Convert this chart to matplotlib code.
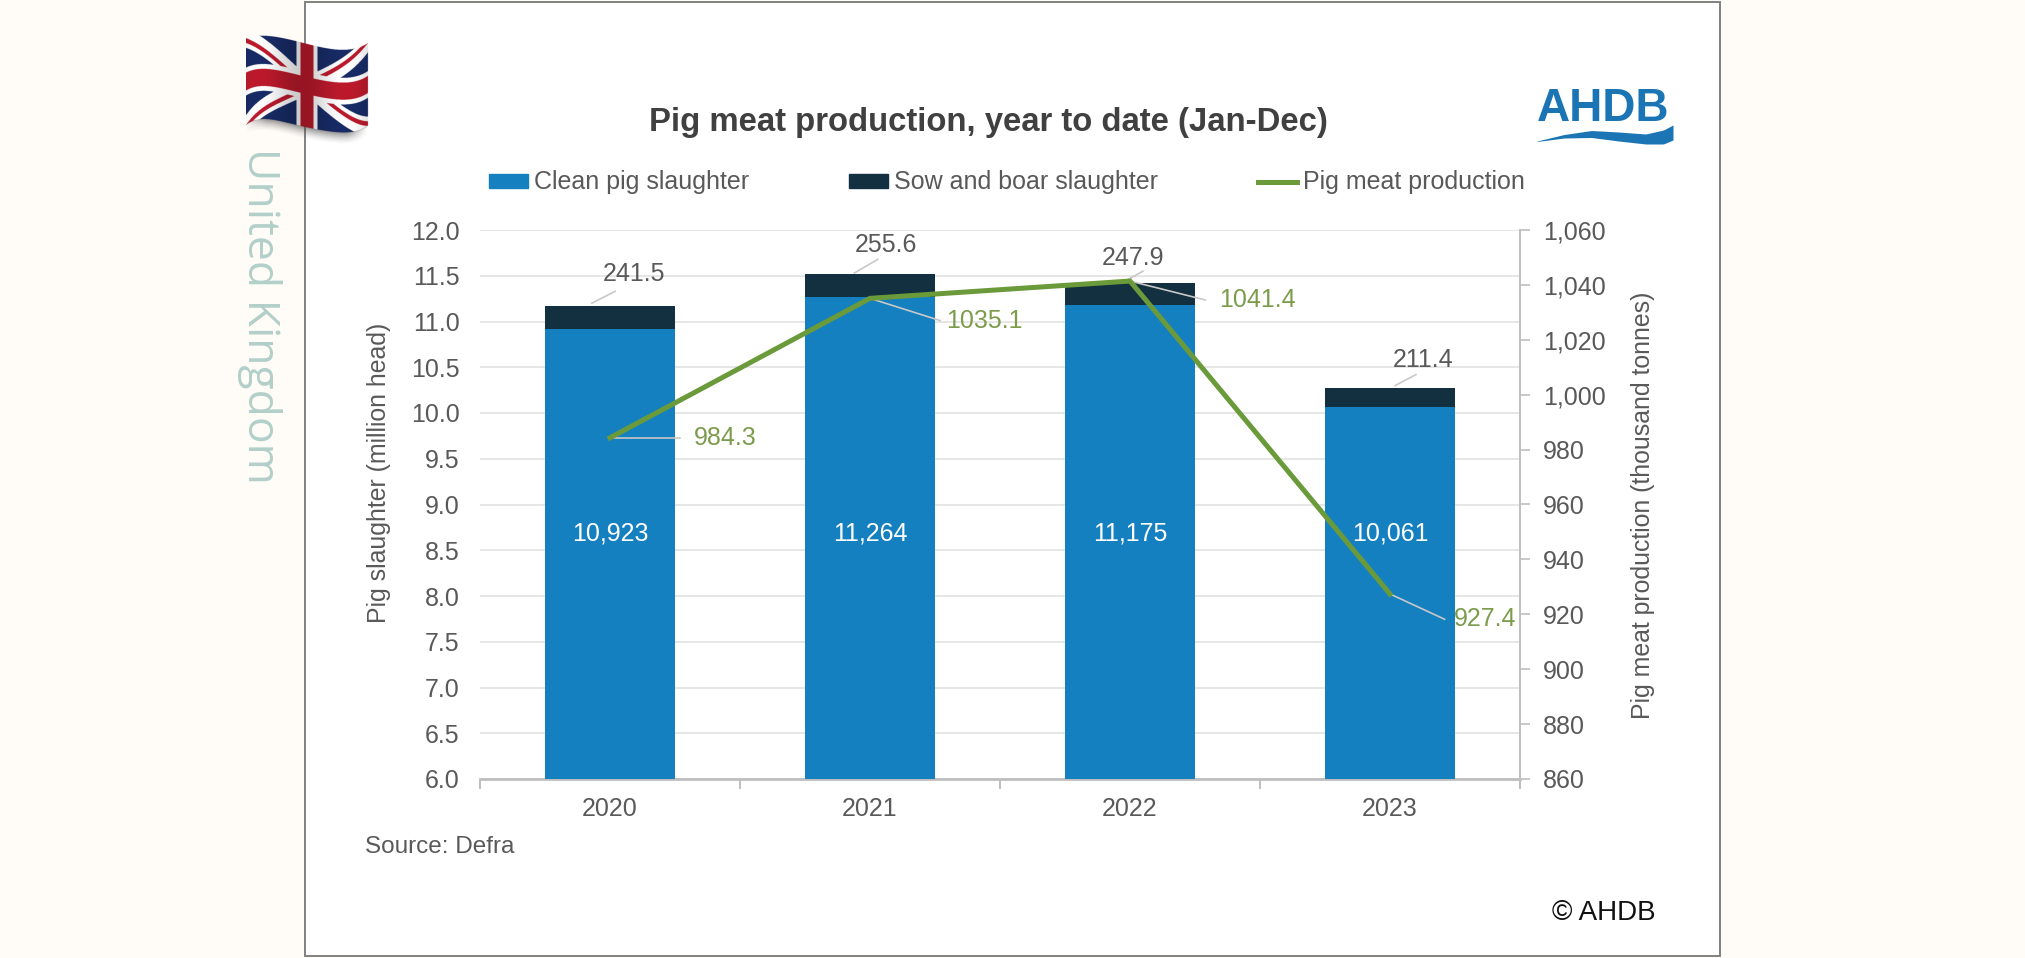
import numpy as np
import matplotlib
matplotlib.use("Agg")
import matplotlib.pyplot as plt
from matplotlib.patches import Rectangle, Patch
from matplotlib.lines import Line2D

plt.rcParams['font.family'] = ['Liberation Sans', 'DejaVu Sans']

years = ['2020', '2021', '2022', '2023']
clean_pigs = [10923, 11264, 11175, 10061]          # thousand head
sows_boars = [241.5, 255.6, 247.9, 211.4]          # thousand head
production = [984.3, 1035.1, 1041.4, 927.4]        # thousand tonnes
clean_labels = ['10,923', '11,264', '11,175', '10,061']
left_ticks = [6.0, 6.5, 7.0, 7.5, 8.0, 8.5, 9.0, 9.5, 10.0, 10.5, 11.0, 11.5, 12.0]
right_ticks = [860, 880, 900, 920, 940, 960, 980, 1000, 1020, 1040, 1060]

W, H = 2025, 958
GREY = '#595959'
BLUE = '#1580C0'
DARK = '#12303F'
GREEN = '#6A9A3A'
GREEN_TXT = '#7C9C4C'

fig = plt.figure(figsize=(W / 100, H / 100), dpi=100, facecolor='#FFFBF7')


def px_axes(l, t, r, b):
    return fig.add_axes([l / W, 1 - b / H, (r - l) / W, (b - t) / H])


# page overlay in pixel coordinates
page = fig.add_axes([0, 0, 1, 1], zorder=0)
page.set_xlim(0, W)
page.set_ylim(H, 0)
page.axis('off')
page.add_patch(Rectangle((305, 1.5), 1415, 954.5, fc='white', ec='#808080', lw=1.4))

# chart
ax = px_axes(480, 230, 1520, 779)
ax.set_zorder(2)
ax.patch.set_alpha(0)
x = np.arange(len(years))
clean_m = np.array(clean_pigs) / 1000
sows_m = np.array(sows_boars) / 1000
ax.bar(x, clean_m, width=0.5, color=BLUE, zorder=3)
ax.bar(x, sows_m, width=0.5, bottom=clean_m, color=DARK, zorder=3)
ax.set_xlim(-0.5, 3.5)
ax.set_ylim(6, 12)
ax.set_yticks(left_ticks)
ax.set_yticklabels([f'{v:.1f}' for v in left_ticks], fontsize=18, color=GREY)
ax.set_xticks(x)
ax.set_xticklabels(years, fontsize=18, color=GREY)
ax.set_xticks(np.arange(-0.5, 4), minor=True)
ax.tick_params(axis='x', which='major', length=0, pad=13)
ax.tick_params(axis='x', which='minor', length=7, color='#BFBFBF', width=1.4)
ax.tick_params(axis='y', length=0, pad=14.5)
ax.grid(axis='y', color='#E6E6E6', lw=1.4, zorder=0)
ax.set_axisbelow(True)
for s in ['top', 'left', 'right']:
    ax.spines[s].set_visible(False)
ax.spines['bottom'].set_color('#BFBFBF')
ax.spines['bottom'].set_linewidth(2)
ax.set_ylabel('Pig slaughter (million head)', fontsize=17.9, color=GREY)
ax.yaxis.set_label_coords((391 - 480) / 1040, 1 - (473 - 230) / 549)

ax2 = ax.twinx()
ax2.set_zorder(3)
ax2.patch.set_alpha(0)
ax2.plot(x, production, color=GREEN, lw=3.6, solid_joinstyle='miter', zorder=5)
ax2.set_ylim(860, 1060)
ax2.set_yticks(right_ticks)
ax2.set_yticklabels([f'{v:,}' for v in right_ticks], fontsize=18, color=GREY)
ax2.tick_params(axis='y', length=7, color='#BFBFBF', width=1.2, pad=9.5)
for s in ['top', 'left', 'bottom']:
    ax2.spines[s].set_visible(False)
ax2.spines['right'].set_color('#BFBFBF')
ax2.spines['right'].set_linewidth(1.4)
ax2.set_ylabel('Pig meat production (thousand tonnes)', fontsize=17.9, color=GREY)
ax2.yaxis.set_label_coords(1 + (1631 - 1520) / 1040, 1 - (505 - 230) / 549)

# data labels
for xi, v, s in zip(x, clean_m, clean_labels):
    ax.text(xi, 8.68, s, ha='center', va='center', color='white', fontsize=18, zorder=6)

top_label_pos = [(0.093, 11.52), (0.06, 11.84), (0.01, 11.69), (0.127, 10.58)]
top_leader_from = [(-0.07, 11.2), (-0.06, 11.53), (-0.02, 11.44), (0.02, 10.3)]
top_leader_to = [(0.02, 11.33), (0.03, 11.68), (0.05, 11.55), (0.1, 10.42)]
for xi, v, lp, a, b in zip(x, sows_boars, top_label_pos, top_leader_from, top_leader_to):
    ax.text(xi + lp[0], lp[1], f'{v:.1f}', ha='center', va='center', color=GREY, fontsize=18, zorder=6)
    ax.plot([xi + a[0], xi + b[0]], [a[1], b[1]], color='#C8C8C8', lw=1.2, zorder=6)

line_label_dx = [0.445, 0.44, 0.49, 0.365]
line_label_y = [984.3, 1027.0, 1034.5, 918.2]
leader_end_dx = [0.27, 0.27, 0.29, 0.21]
leader_end_y = [984.3, 1027.0, 1034.5, 918.2]
for xi, v, dx, ly, ex, ey in zip(x, production, line_label_dx, line_label_y, leader_end_dx, leader_end_y):
    ax2.plot([xi, xi + ex], [v, ey], color='#C8C8C8', lw=1.2, zorder=4)
    ax2.text(xi + dx, ly, f'{v:.1f}', ha='center', va='center', color=GREEN_TXT, fontsize=18, zorder=6)

# title, legend, notes
page.text(988, 122, 'Pig meat production, year to date (Jan-Dec)', ha='center', va='center',
          fontsize=23.7, fontweight='bold', color='#404040')
handles = [Patch(color=BLUE), Patch(color=DARK), Line2D([], [], color=GREEN, lw=3.6)]
labels = ['Clean pig slaughter', 'Sow and boar slaughter', 'Pig meat production']
fig.legend(handles, labels, ncols=3, frameon=False, fontsize=18, labelcolor=GREY,
           loc='center left', bbox_to_anchor=(489 / W, 1 - 182.5 / H), borderaxespad=0,
           handlelength=1.56, handleheight=0.5, handletextpad=0.24, columnspacing=4.0, borderpad=0)
page.text(365, 847, 'Source: Defra', ha='left', va='center', fontsize=17.5, color=GREY)
page.text(1552, 913, '© AHDB', ha='left', va='center', fontsize=20, color='#111111')
page.text(259, 316, 'United Kingdom', rotation=-90, ha='center', va='center',
          fontsize=32, color='#B2CFC9', family=['Open Sans', 'DejaVu Sans'])

# AHDB logo
page.text(1603, 109, 'AHDB', ha='center', va='center', fontsize=33, fontweight='bold', color='#1B75B5')
wx = np.linspace(0, 1, 80)
wave_u = [0, .2, .4, .6, .8, .93, 1]
wave_top = np.interp(wx, wave_u, [141, 134.5, 130.5, 132, 134, 130, 125])
wave_bot = np.interp(wx, wave_u, [141.5, 138, 137.5, 141, 144, 144, 140])
page.fill_between(1537 + 136 * wx, wave_top, wave_bot, color='#1B75B5', lw=0)

# flag drawn as an image
L, T, R, B = 246, 34, 372, 146
n = 4
gx, gy = np.meshgrid(np.linspace(L, R, (R - L) * n), np.linspace(T, B, (B - T) * n))
fL, fR = 246, 368
u = (gx - fL) / (fR - fL)
edge_u = [0, .2, .44, .62, .8, .9, 1]
top_edge = np.polyval(np.polyfit(edge_u, [38, 36, 42, 47, 50, 48, 43], 5), u)
bot_edge = np.polyval(np.polyfit(edge_u, [125, 119.5, 126, 130, 133, 131, 126], 5), u)
fh = bot_edge - top_edge
v = (gy - top_edge) / fh
X = (u - .5) * 122
Y = (v - .5) * 87
nrm = np.hypot(122, 87)
s1 = (X * 87 - Y * 122) / nrm
s2 = (X * 87 + Y * 122) / nrm
img = np.zeros(gx.shape + (4,))
img[..., :3] = np.array([0x18, 0x2B, 0x66]) / 255
white = np.array([1, 1, 1.0])
red = np.array([0xBC, 0x1A, 0x2C]) / 255
img[(np.abs(s1) < 8) | (np.abs(s2) < 8), :3] = white
r1 = ((X < 0) & (s1 < 0) & (s1 > -4)) | ((X > 0) & (s1 > 0) & (s1 < 4))
r2 = ((X > 0) & (s2 < 0) & (s2 > -4)) | ((X < 0) & (s2 > 0) & (s2 < 4))
img[r1 | r2, :3] = red
img[(np.abs(X) < 10.5) | (np.abs(Y) < 14), :3] = white
img[(np.abs(X) < 6.5) | (np.abs(Y) < 9), :3] = red
shade = 0.9 + 0.1 * np.cos((u - .1) * 2 * np.pi * 1.4)
img[..., :3] *= shade[..., None]
inside = (u >= 0) & (u <= 1) & (v >= 0) & (v <= 1)
img[..., 3] = inside
below = (u >= 0) & (u <= 1) & (v > 1)
shadow = np.clip(1 - (v - 1) * fh / 12, 0, 1) ** 1.5 * 0.55 * np.clip(np.sin(u * np.pi) * 2, 0, 1)
img[below, :3] = 0.25
img[below, 3] = shadow[below]
page.imshow(img, extent=(L, R, B, T), aspect='auto', zorder=5, interpolation='antialiased')
page.set_xlim(0, W)
page.set_ylim(H, 0)

fig.savefig('out.png', dpi=100, facecolor=fig.get_facecolor())
